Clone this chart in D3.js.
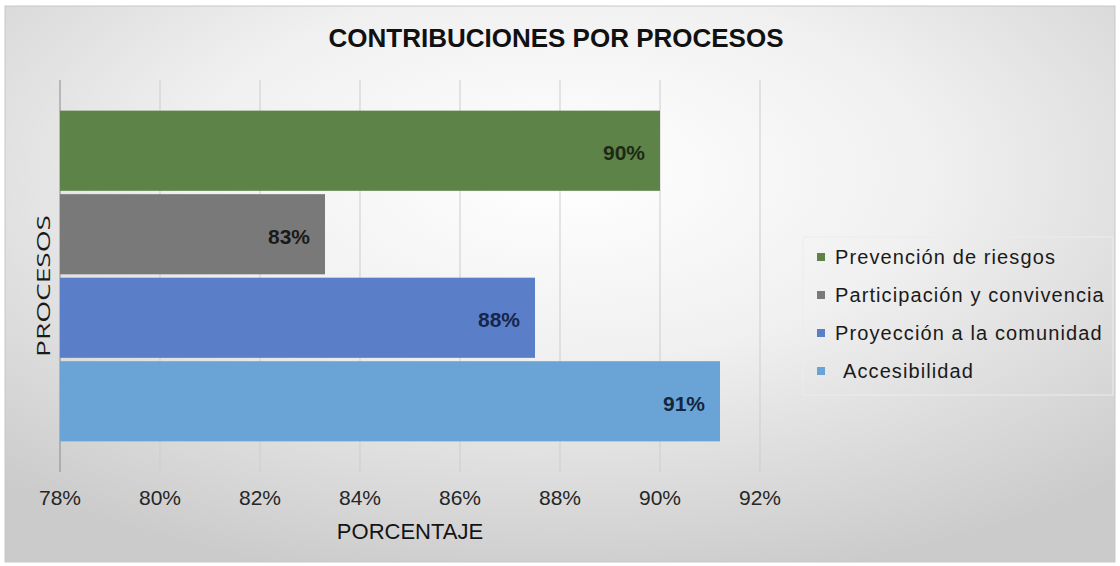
<!DOCTYPE html>
<html>
<head>
<meta charset="utf-8">
<script src="https://cdn.jsdelivr.net/npm/d3@7"></script>
<style>
  body { margin: 0; background: #fff; }
  svg { display: block; }
</style>
</head>
<body>
<svg id="chart" width="1120" height="566"></svg>
<script>
// series, top to bottom
const series = ['Prevención de riesgos', 'Participación y convivencia', 'Proyección a la comunidad', 'Accesibilidad'];
const values = [0.900, 0.833, 0.875, 0.912];
const colors = ['#5e8349', '#797979', '#5a7fc8', '#6aa4d6'];
const labelColors = ['#1c2a14', '#1a1a1a', '#17254a', '#16263d'];
const ticks = [0.78, 0.80, 0.82, 0.84, 0.86, 0.88, 0.90, 0.92];

const svg = d3.select('#chart');
const sans = '"Liberation Sans", Arial, sans-serif';

const plot = { left: 60, right: 760, top: 86, bottom: 466 };

// background
const defs = svg.append('defs');
const grad = defs.append('radialGradient')
  .attr('id', 'bg')
  .attr('cx', '50%').attr('cy', '30%').attr('r', '75%');
grad.append('stop').attr('offset', '0%').attr('stop-color', '#ffffff');
grad.append('stop').attr('offset', '45%').attr('stop-color', '#f0f0f0');
grad.append('stop').attr('offset', '100%').attr('stop-color', '#cbcbcb');

svg.append('rect')
  .attr('x', 5).attr('y', 6).attr('width', 1110).attr('height', 556)
  .attr('fill', 'url(#bg)')
  .attr('stroke', '#c8c8c8');

const x = d3.scaleLinear().domain([0.78, 0.92]).range([plot.left, plot.right]);
const y = d3.scaleBand().domain(series).range([plot.top, plot.bottom])
  .paddingInner(0.04).paddingOuter(0.295);

// gridlines + tick marks
svg.append('g')
  .selectAll('line')
  .data(ticks)
  .join('line')
  .attr('x1', d => x(d)).attr('x2', d => x(d))
  .attr('y1', plot.top - 6).attr('y2', plot.bottom + 6)
  .attr('stroke', (d, i) => i === 0 ? '#8a8a8a' : '#cdcdcd')
  .attr('stroke-width', 1);

// bars
svg.append('g')
  .selectAll('rect')
  .data(series)
  .join('rect')
  .attr('x', x(0.78))
  .attr('y', d => y(d))
  .attr('width', (d, i) => x(values[i]) - x(0.78))
  .attr('height', y.bandwidth())
  .attr('fill', (d, i) => colors[i]);

// data labels
const pct = d3.format('.0%');
svg.append('g')
  .selectAll('text')
  .data(series)
  .join('text')
  .attr('x', (d, i) => x(values[i]) - 15)
  .attr('y', d => y(d) + y.bandwidth() / 2 + 2)
  .attr('dy', '0.35em')
  .attr('text-anchor', 'end')
  .style('font-family', sans)
  .style('font-size', '21px')
  .style('font-weight', 'bold')
  .attr('fill', (d, i) => labelColors[i])
  .text((d, i) => pct(values[i]));

// x axis tick labels
svg.append('g')
  .selectAll('text')
  .data(ticks)
  .join('text')
  .attr('x', d => x(d))
  .attr('y', 505)
  .attr('text-anchor', 'middle')
  .style('font-family', sans)
  .style('font-size', '21px')
  .attr('fill', '#262626')
  .text(d => pct(d));

// axis titles
svg.append('text')
  .attr('x', 410).attr('y', 539)
  .attr('text-anchor', 'middle')
  .style('font-family', sans)
  .style('font-size', '22px')
  .attr('fill', '#141414')
  .text('PORCENTAJE');

svg.append('text')
  .attr('transform', 'translate(50,286) rotate(-90)')
  .attr('text-anchor', 'middle')
  .attr('textLength', 142)
  .attr('lengthAdjust', 'spacingAndGlyphs')
  .style('font-family', '"Open Sans", "DejaVu Sans", sans-serif')
  .style('font-size', '18px')
  .attr('fill', '#1a1a1a')
  .text('PROCESOS');

// title
svg.append('text')
  .attr('x', 556).attr('y', 47)
  .attr('text-anchor', 'middle')
  .style('font-family', sans)
  .style('font-size', '26px')
  .style('font-weight', 'bold')
  .attr('fill', '#111')
  .text('CONTRIBUCIONES POR PROCESOS');

// legend
const legend = svg.append('g').attr('transform', 'translate(803,237)');
legend.append('rect')
  .attr('width', 310).attr('height', 158)
  .attr('fill', 'none')
  .attr('stroke', '#ececec');
const item = legend.selectAll('g')
  .data(series)
  .join('g')
  .attr('transform', (d, i) => 'translate(14,' + (20 + i * 38) + ')');
item.append('rect')
  .attr('x', 0).attr('y', -4)
  .attr('width', 8).attr('height', 8)
  .attr('fill', (d, i) => colors[i]);
item.append('text')
  .attr('x', d => d === 'Accesibilidad' ? 26 : 18)
  .attr('dy', '0.35em')
  .style('font-family', sans)
  .style('font-size', '20px')
  .style('letter-spacing', '1.1px')
  .attr('fill', '#1a1a1a')
  .text(d => d);
</script>
</body>
</html>
